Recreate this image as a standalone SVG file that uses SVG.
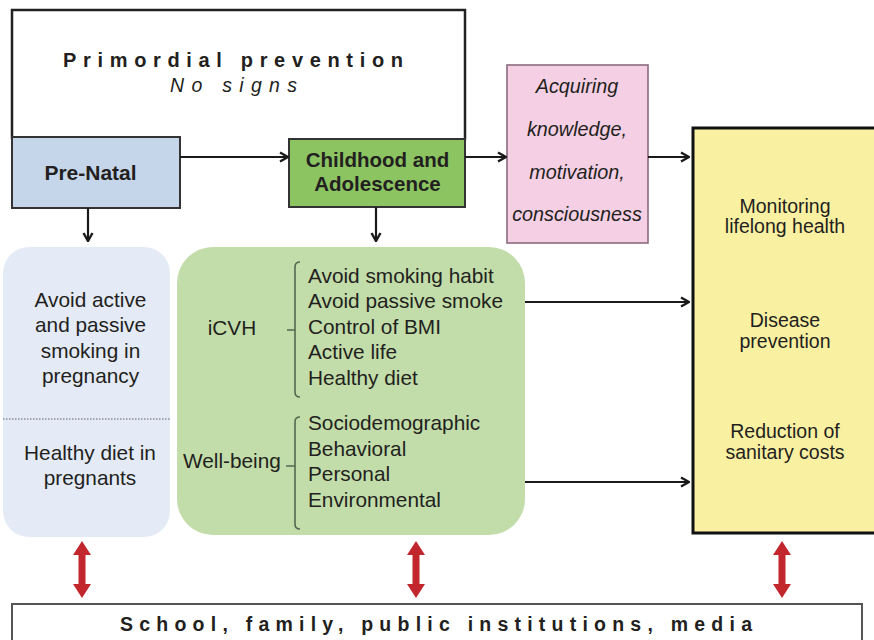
<svg xmlns="http://www.w3.org/2000/svg" width="874" height="640" viewBox="0 0 874 640">
  <style>
    text { font-family: "Liberation Sans", Arial, sans-serif; fill: #231f20; }
    .body { font-size: 20.8px; }
    .mid { text-anchor: middle; }
    .bold { font-weight: bold; }
    .ital { font-style: italic; }
    .conn { stroke: #1a1a1a; stroke-width: 2.2; fill: none; }
    .brace { stroke: #56684f; stroke-width: 1.6; fill: none; }
    .red { fill: #c1272d; }
  </style>
  <defs>
    <marker id="arrow" viewBox="0 0 12 12" refX="11" refY="6" markerWidth="12" markerHeight="12" markerUnits="userSpaceOnUse" orient="auto">
      <path d="M3,1.5 L11,6 L3,10.5" fill="none" stroke="#1a1a1a" stroke-width="2.4" stroke-linejoin="miter"/>
    </marker>
  </defs>

  <rect width="874" height="640" fill="#ffffff"/>

  <!-- Primordial prevention frame (open at the bottom, sitting on the two stage boxes) -->
  <g id="primordial">
    <path d="M12,139 V10 H465 V140" fill="none" stroke="#222" stroke-width="2.5"/>
    <text x="63" y="67" class="bold" font-size="20" textLength="340" lengthAdjust="spacing">Primordial prevention</text>
    <text x="170" y="92" class="ital" font-size="19.5" textLength="127" lengthAdjust="spacing">No signs</text>
  </g>

  <g id="prenatal">
    <rect x="12" y="137" width="168" height="71" fill="#c6d6ea" stroke="#333" stroke-width="2"/>
    <text x="90.5" y="180" class="mid bold" font-size="21">Pre-Natal</text>
  </g>

  <g id="childhood">
    <rect x="289" y="139" width="176" height="68" fill="#8cc462" stroke="#333" stroke-width="2"/>
    <text x="377.5" y="167" class="mid bold" font-size="20.5">Childhood and</text>
    <text x="377.5" y="191" class="mid bold" font-size="20.5">Adolescence</text>
  </g>

  <g id="knowledge">
    <rect x="507" y="65" width="141" height="178" fill="#f5d0e4" stroke="#8b6b7f" stroke-width="1.6"/>
    <text x="577" y="93" class="mid ital" font-size="19.8">Acquiring</text>
    <text x="577" y="136" class="mid ital" font-size="19.8">knowledge,</text>
    <text x="577" y="179" class="mid ital" font-size="19.8">motivation,</text>
    <text x="577" y="221" class="mid ital" font-size="19.8">consciousness</text>
  </g>

  <g id="outcomes">
    <rect x="693" y="128" width="200" height="405" fill="#faf0a2" stroke="#111" stroke-width="3"/>
    <text x="785" y="213" class="mid" font-size="19.5">Monitoring</text>
    <text x="785" y="233" class="mid" font-size="19.5">lifelong health</text>
    <text x="785" y="327" class="mid" font-size="19.5">Disease</text>
    <text x="785" y="348" class="mid" font-size="19.5">prevention</text>
    <text x="785" y="438" class="mid" font-size="19.5">Reduction of</text>
    <text x="785" y="459" class="mid" font-size="19.5">sanitary costs</text>
  </g>

  <g id="prenatal-actions">
    <rect x="3" y="247" width="167" height="290" rx="26" ry="26" fill="#e4ebf6"/>
    <line x1="3" y1="419" x2="170" y2="419" stroke="#8a8f98" stroke-width="1.6" stroke-dasharray="1.5 1.5"/>
    <text x="90.5" y="307" class="mid body">Avoid active</text>
    <text x="90.5" y="332" class="mid body">and passive</text>
    <text x="90.5" y="358" class="mid body">smoking in</text>
    <text x="90.5" y="383" class="mid body">pregnancy</text>
    <text x="90" y="460" class="mid body">Healthy diet in</text>
    <text x="90" y="485" class="mid body">pregnants</text>
  </g>

  <g id="childhood-actions">
    <rect x="177" y="247" width="348" height="288" rx="36" ry="36" fill="#c2dda9"/>
    <text x="232" y="335" class="mid body">iCVH</text>
    <text x="183" y="468" class="body">Well-being</text>
    <path class="brace" d="M300,262 Q295,262 295,267 V392 Q295,397 300,397 M295,330 H287"/>
    <path class="brace" d="M300,417 Q295,417 295,422 V524 Q295,529 300,529 M295,466 H286"/>
    <text x="308" y="283" class="body">Avoid smoking habit</text>
    <text x="308" y="308" class="body">Avoid passive smoke</text>
    <text x="308" y="334" class="body">Control of BMI</text>
    <text x="308" y="359" class="body">Active life</text>
    <text x="308" y="385" class="body">Healthy diet</text>
    <text x="308" y="430" class="body">Sociodemographic</text>
    <text x="308" y="456" class="body">Behavioral</text>
    <text x="308" y="481" class="body">Personal</text>
    <text x="308" y="507" class="body">Environmental</text>
  </g>

  <g id="community">
    <rect x="12" y="604" width="850" height="50" fill="#ffffff" stroke="#555" stroke-width="2"/>
    <text x="120" y="631" class="bold" font-size="19.5" textLength="632" lengthAdjust="spacing">School, family, public institutions, media</text>
  </g>

  <g id="connectors">
    <line class="conn" x1="180" y1="157" x2="288" y2="157" marker-end="url(#arrow)"/>
    <line class="conn" x1="465" y1="157" x2="506" y2="157" marker-end="url(#arrow)"/>
    <line class="conn" x1="648" y1="157" x2="689" y2="157" marker-end="url(#arrow)"/>
    <line class="conn" x1="88" y1="208" x2="88" y2="241" marker-end="url(#arrow)"/>
    <line class="conn" x1="376" y1="207" x2="376" y2="241" marker-end="url(#arrow)"/>
    <line class="conn" x1="525" y1="302" x2="689" y2="302" marker-end="url(#arrow)"/>
    <line class="conn" x1="525" y1="482" x2="689" y2="482" marker-end="url(#arrow)"/>
    <!-- two-way links with the community box -->
    <polygon class="red" points="82,541 91,555 85.5,555 85.5,584 91,584 82,598 73,584 78.5,584 78.5,555 73,555"/>
    <polygon class="red" points="416,541 425,555 419.5,555 419.5,584 425,584 416,598 407,584 412.5,584 412.5,555 407,555"/>
    <polygon class="red" points="782,541 791,555 785.5,555 785.5,584 791,584 782,598 773,584 778.5,584 778.5,555 773,555"/>
  </g>
</svg>
